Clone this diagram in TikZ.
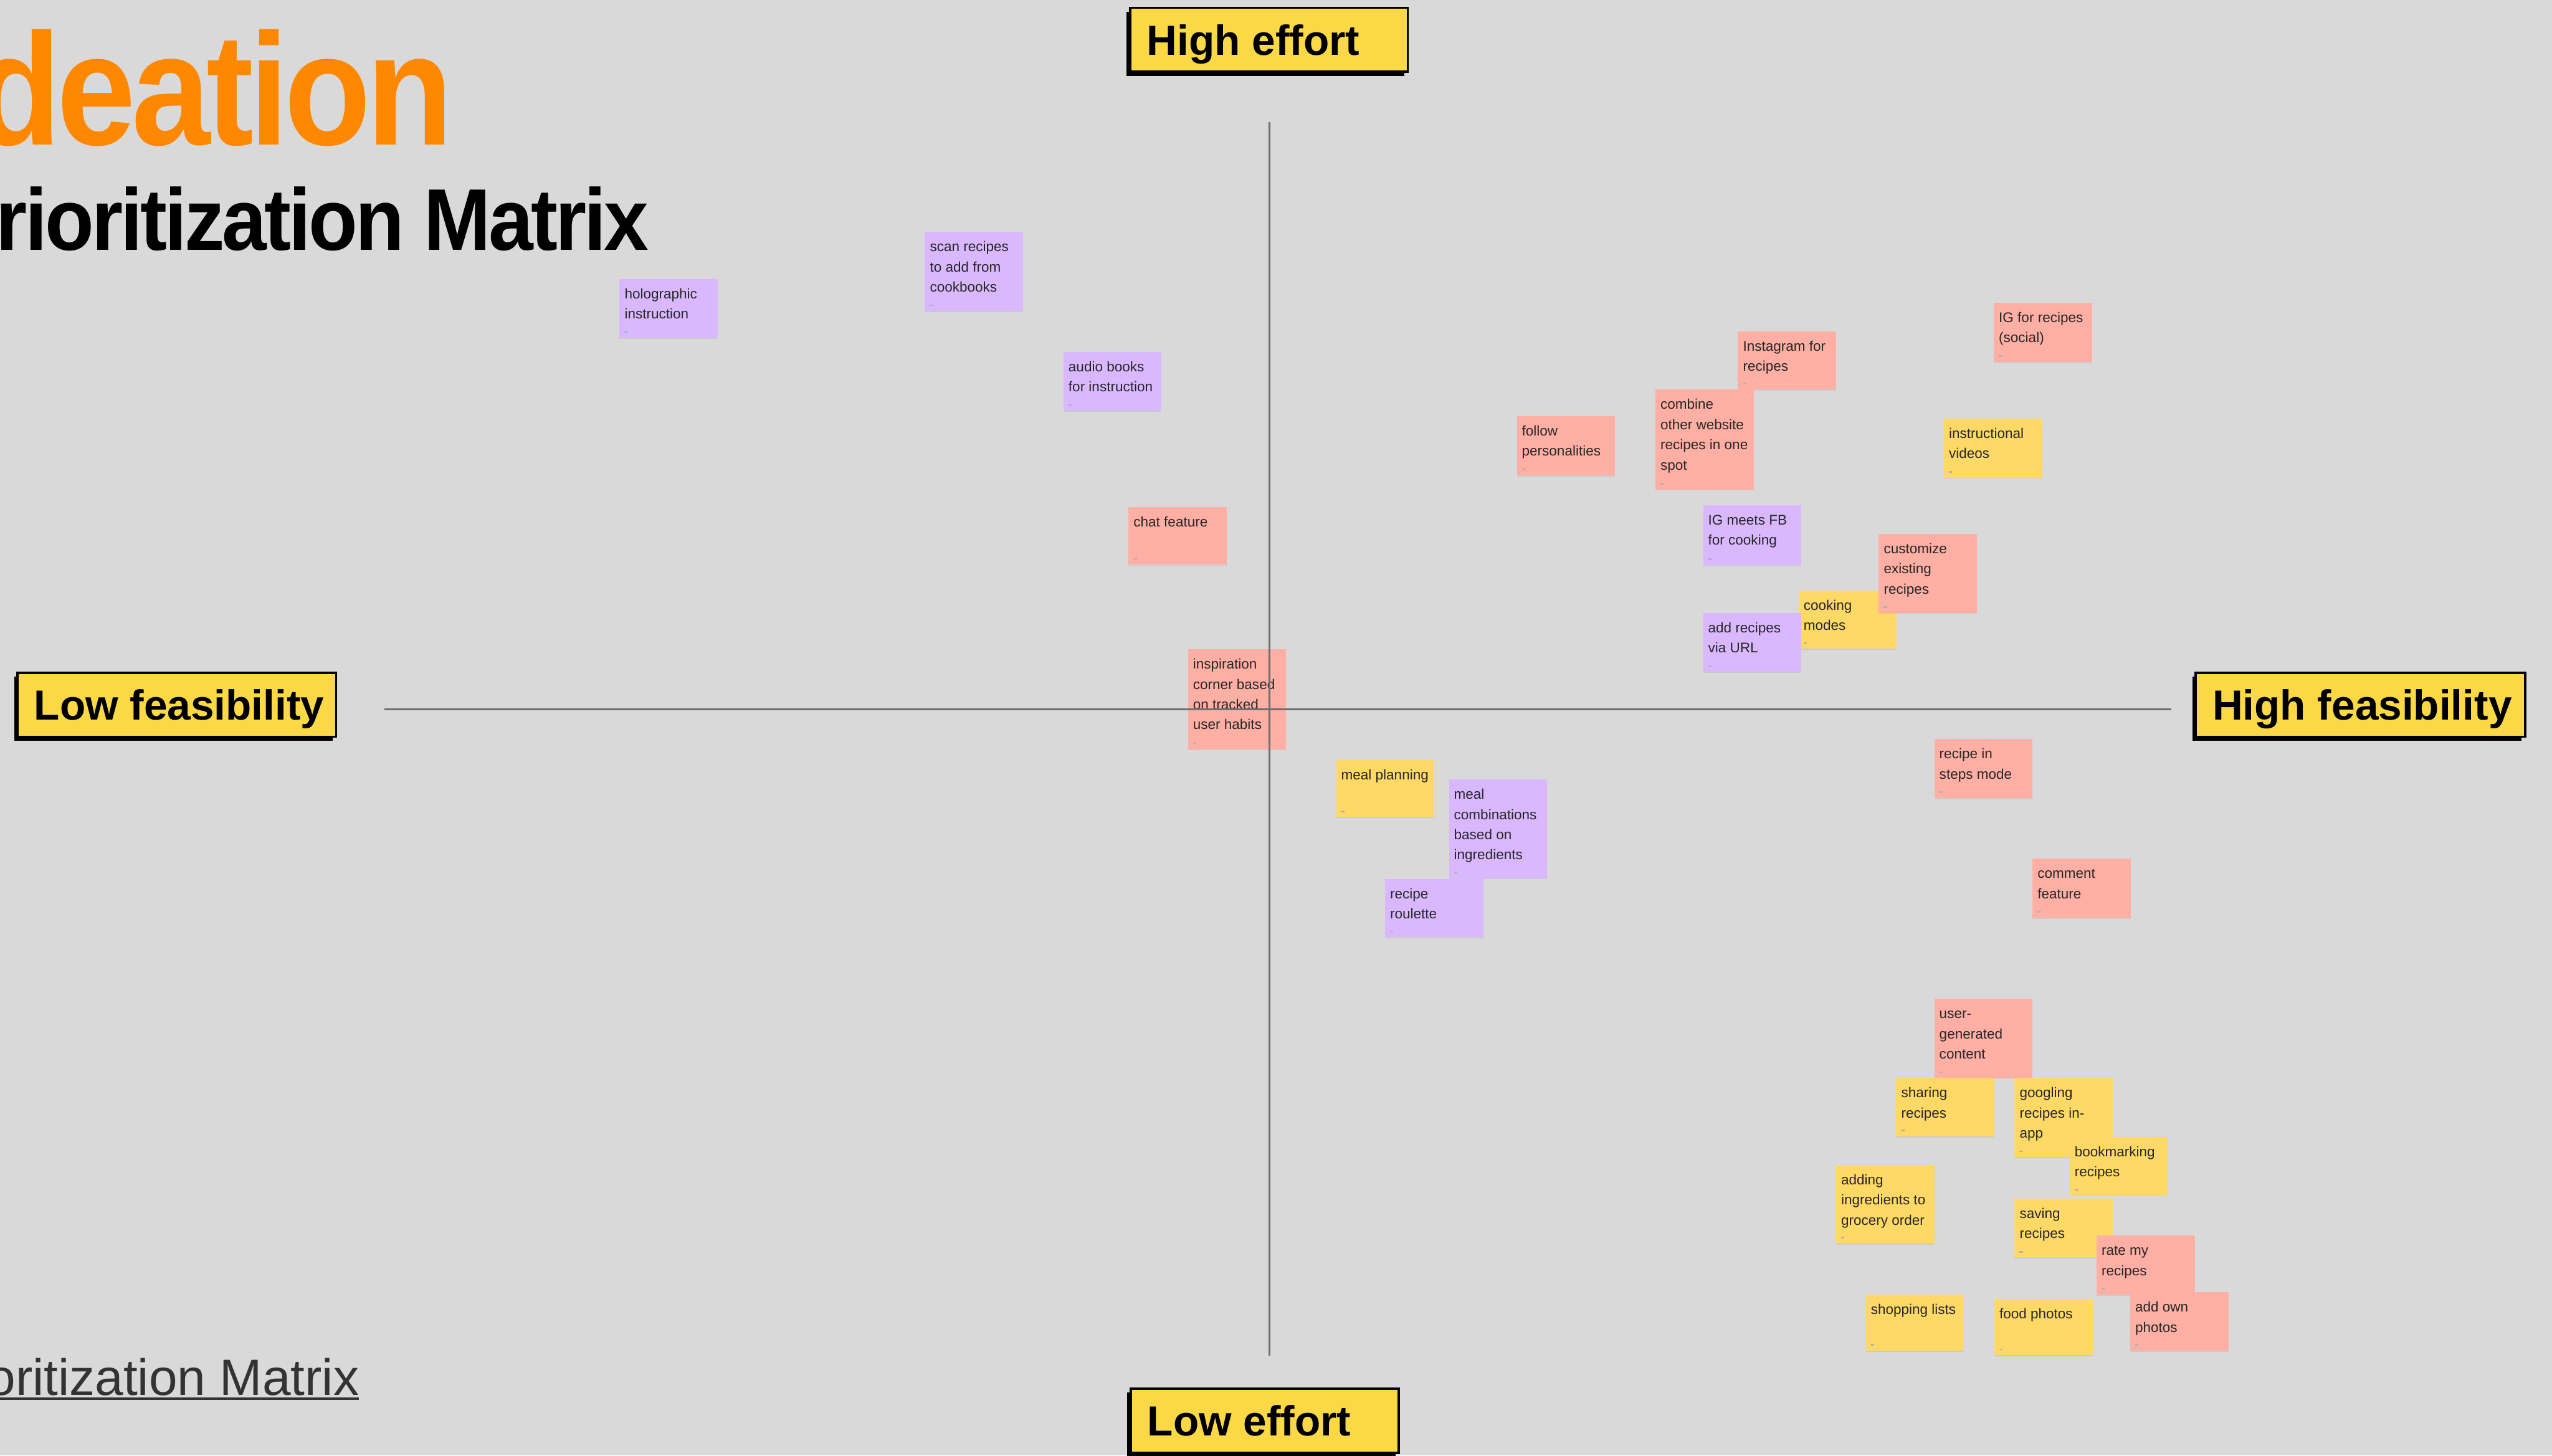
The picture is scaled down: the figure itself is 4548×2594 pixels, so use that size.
\documentclass[tikz,border=0pt]{standalone}
\usepackage{fontspec}
\setmainfont{Liberation Sans}
\newfontfamily\headfont[LetterSpace=-3]{Liberation Sans}
\usetikzlibrary{shadows}

\definecolor{bg}{HTML}{D9D9D9}
\definecolor{ideaorange}{HTML}{FF8800}
\definecolor{tagyellow}{HTML}{FAD846}
\definecolor{notesalmon}{HTML}{FFAFA3}
\definecolor{noteyellow}{HTML}{FFD966}
\definecolor{notepurple}{HTML}{D9B8FF}
\definecolor{axisgray}{HTML}{6E6E6E}
\definecolor{notetext}{HTML}{262626}
\definecolor{linkgray}{HTML}{333333}

\tikzset{
  note/.style={rectangle, inner sep=0pt, anchor=north west, text=notetext,
    font=\fontsize{25}{36}\selectfont,
    drop shadow={opacity=0.15, shadow xshift=0pt, shadow yshift=-2pt}},
  notemark/.style={black!30},
  tag/.style={rectangle, draw=black, line width=4pt, fill=tagyellow,
    anchor=north west, inner xsep=30pt, inner ysep=0pt,
    text height=84pt, text depth=30pt,
    font=\bfseries\fontsize{75}{75}\selectfont,
    drop shadow={opacity=1, fill=black, shadow xshift=-6pt, shadow yshift=-7pt}},
  axisline/.style={draw=axisgray, line width=3pt},
}

% sticky note: name, colour, left, top, height, lines
\newcommand\postit[6]{%
  \node[note, fill=#2] (#1) at (#3,#4)
    {\parbox[t][#5pt][t]{175pt}{\raggedright\leftskip=9pt\relax\rule{0pt}{35pt}#6}};
  \fill[notemark] ([shift={(9pt,9pt)}]#1.south west) rectangle ++(6pt,3pt);
}
% yellow axis label: name, corner, inner width, text
\newcommand\axistag[4]{%
  \node[tag] (#1) at (#2) {\makebox[#3pt][l]{#4}};
}

\begin{document}
\begin{tikzpicture}[x=1pt, y=-1pt]
\useasboundingbox (0,0) rectangle (4548,2594);
\fill[bg] (0,0) rectangle (4548,2594);

% headings
\node[anchor=base east, inner sep=0pt, text=ideaorange,
  font=\headfont\bfseries\fontsize{284}{284}\selectfont] (title) at (808,258)
  {\scalebox{0.89}[1]{Ideation}};
\node[anchor=base east, inner sep=0pt, text=black,
  font=\headfont\bfseries\fontsize{156}{156}\selectfont] (subtitle) at (1156,446)
  {\scalebox{0.917}[1]{Prioritization Matrix}};

% link at the bottom left
\node[anchor=base east, inner sep=0pt, text=linkgray,
  font=\fontsize{91}{91}\selectfont] (link) at (640,2487) {Prioritization Matrix};
\coordinate (ulstart) at (0,2493);
\draw[linkgray, line width=4pt] (ulstart) -- (ulstart -| link.east);

% axis labels
\axistag{heffort}{2012,12}{435}{High effort}
\axistag{leffort}{2013,2473}{418}{Low effort}
\axistag{lfeas}{29,1197}{508}{Low feasibility}
\axistag{hfeas}{3911,1197}{527}{High feasibility}

% purple notes
\postit{holo}{notepurple}{1104}{497}{105}{holographic\\instruction}
\postit{scan}{notepurple}{1648}{413}{141}{scan recipes\\to add from\\cookbooks}
\postit{audio}{notepurple}{1895}{627}{105}{audio books\\for instruction}

% red notes, upper half
\postit{chat}{notesalmon}{2011}{904}{102}{chat feature}
\postit{inspo}{notesalmon}{2117}{1157}{178}{inspiration\\corner based\\on tracked\\user habits}
\postit{follow}{notesalmon}{2703}{741}{106}{follow\\personalities}
\postit{insta}{notesalmon}{3097}{590}{104}{Instagram for\\recipes}
\postit{combine}{notesalmon}{2950}{694}{178}{combine\\other website\\recipes in one\\spot}
\postit{igsocial}{notesalmon}{3553}{539}{106}{IG for recipes\\(social)}
\postit{videos}{noteyellow}{3464}{746}{105}{instructional\\videos}
\postit{igfb}{notepurple}{3035}{900}{107}{IG meets FB\\for cooking}
\postit{cookmodes}{noteyellow}{3205}{1052}{104}{cooking\\modes}
\postit{customize}{notesalmon}{3348}{951}{141}{customize\\existing\\recipes}
\postit{addurl}{notepurple}{3035}{1092}{105}{add recipes\\via URL}

% lower half, near the centre
\postit{mealplan}{noteyellow}{2381}{1354}{102}{meal planning}
\postit{mealcomb}{notepurple}{2582}{1389}{176}{meal\\combinations\\based on\\ingredients}
\postit{roulette}{notepurple}{2468}{1566}{104}{recipe\\roulette}

% lower half, right
\postit{steps}{notesalmon}{3447}{1317}{105}{recipe in\\steps mode}
\postit{comment}{notesalmon}{3622}{1530}{105}{comment\\feature}
\postit{ugc}{notesalmon}{3447}{1780}{141}{user-\\generated\\content}
\postit{sharing}{noteyellow}{3379}{1921}{104}{sharing\\recipes}
\postit{googling}{noteyellow}{3590}{1921}{141}{googling\\recipes in-\\app}
\postit{bookmark}{noteyellow}{3688}{2026}{104}{bookmarking\\recipes}
\postit{grocery}{noteyellow}{3272}{2076}{140}{adding\\ingredients to\\grocery order}
\postit{saving}{noteyellow}{3590}{2136}{105}{saving\\recipes}
\postit{rate}{notesalmon}{3736}{2202}{105}{rate my\\recipes}
\postit{ownphotos}{notesalmon}{3796}{2303}{104}{add own\\photos}
\postit{shopping}{noteyellow}{3325}{2307}{100}{shopping lists}
\postit{foodphotos}{noteyellow}{3554}{2315}{100}{food photos}

% axes, drawn over the notes
\coordinate (xleft) at (685,1264);
\coordinate (xright) at (3870,1264);
\coordinate (ytop) at (2262,218);
\coordinate (ybottom) at (2262,2416);
\draw[axisline] (xleft) -- (xright);
\draw[axisline] (ytop) -- (ybottom);
\end{tikzpicture}
\end{document}
